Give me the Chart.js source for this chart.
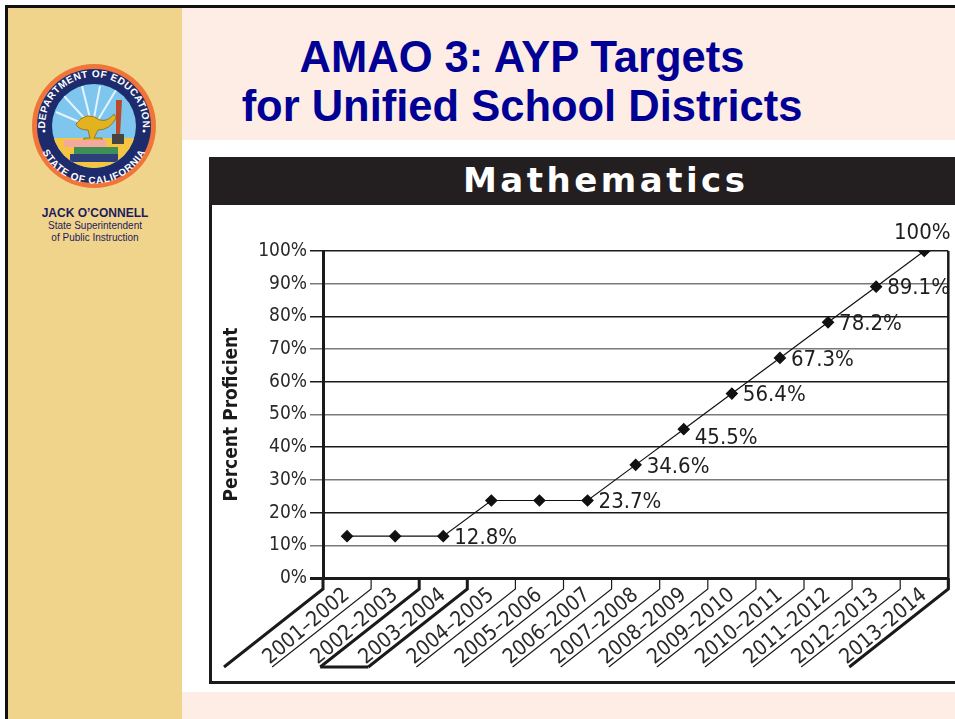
<!DOCTYPE html>
<html>
<head>
<meta charset="utf-8">
<script src="https://cdn.jsdelivr.net/npm/chart.js@4.4.1/dist/chart.umd.min.js"></script>
<style>
  html, body { margin: 0; padding: 0; background: #fff; }
  body { width: 955px; height: 719px; position: relative; overflow: hidden; font-family: 'Liberation Sans', Arial, sans-serif; }
  #frame-top { position: absolute; left: 5px; top: 5px; width: 960px; height: 3px; background: #111; }
  #frame-left { position: absolute; left: 5px; top: 5px; width: 3px; height: 720px; background: #111; }
  #sidebar { position: absolute; left: 8px; top: 8px; width: 174px; height: 711px; background: #f1d48b; }
  #pinkTop { position: absolute; left: 182px; top: 8px; width: 773px; height: 132px; background: #fdede4; }
  #pinkBottom { position: absolute; left: 182px; top: 692px; width: 773px; height: 27px; background: #fdede4; }
  #title { position: absolute; left: 182px; top: 33px; width: 680px; text-align: center; color: #000095;
           font: bold 43.5px 'Liberation Sans', Arial, sans-serif; line-height: 49px; }
  #seal { position: absolute; left: 32px; top: 64px; }
  #who { position: absolute; left: 8px; top: 206px; width: 174px; text-align: center; color: #1b1b5e; }
  #who .name { font: bold 12px 'Liberation Sans', Arial, sans-serif; }
  #who .role { font: 10px 'Liberation Sans', Arial, sans-serif; line-height: 12px; }
  #box { position: absolute; left: 209px; top: 157px; width: 800px; height: 524px; border: 3px solid #1a1a1a; border-top: none; background: #fff; }
  #head { position: absolute; left: 209px; top: 157px; width: 800px; height: 48px; background: #231f20; }
  #head span { position: absolute; left: 254px; top: 3px; color: #fff; font: bold 34px 'DejaVu Sans', sans-serif; letter-spacing: 3.5px; }
  #chartWrap { position: absolute; left: 212px; top: 205px; width: 743px; height: 476px; }
</style>
</head>
<body>
<div id="sidebar"></div>
<div id="pinkTop"></div>
<div id="pinkBottom"></div>
<div id="frame-top"></div>
<div id="frame-left"></div>

<svg id="seal" width="124" height="124" viewBox="-62 -62 124 124">
  <defs>
    <path id="arcTop" d="M -49 0 A 49 49 0 0 1 49 0"/>
    <path id="arcBot" d="M -55 0 A 55 55 0 0 0 55 0"/>
    <clipPath id="inner"><circle r="42"/></clipPath>
  </defs>
  <circle r="62" fill="#f0753a"/>
  <circle r="57" fill="#1d2a6b"/>
  <g clip-path="url(#inner)">
    <rect x="-42" y="-42" width="84" height="84" fill="#7fc6ee"/>
    <rect x="-42" y="12" width="84" height="30" fill="#f5c542"/>
    <g stroke="#fff" stroke-width="2" opacity="0.8">
      <line x1="-8" y1="-6" x2="-30" y2="-30"/><line x1="-4" y1="-8" x2="-12" y2="-40"/>
      <line x1="0" y1="-8" x2="6" y2="-40"/><line x1="4" y1="-6" x2="22" y2="-36"/>
      <line x1="-10" y1="-2" x2="-38" y2="-14"/>
    </g>
    <path d="M -18 -2 q 10 -14 24 -4 q 8 2 14 -6 l 2 4 q -6 12 -18 12 l -4 8 h 8 v 4 h -18 v -4 h 6 l -2 -8 q -10 0 -12 -6 z" fill="#e3b21f" stroke="#8a6a10" stroke-width="0.8"/>
    <rect x="-30" y="14" width="42" height="7" fill="#f4a8a0"/>
    <rect x="-20" y="21" width="44" height="7" fill="#3e8f55"/>
    <rect x="-24" y="28" width="48" height="8" fill="#2c3f7a"/>
    <path d="M 22 -26 l 6 0 l -2 36 l -4 0 z" fill="#b94a2a"/>
    <rect x="18" y="8" width="12" height="10" fill="#444"/>
  </g>
  <text font-family="'Liberation Sans', Arial, sans-serif" font-weight="bold" font-size="10" fill="#fff" letter-spacing="0.5">
    <textPath href="#arcTop" startOffset="50%" text-anchor="middle">DEPARTMENT OF EDUCATION</textPath>
  </text>
  <text font-family="'Liberation Sans', Arial, sans-serif" font-weight="bold" font-size="10" fill="#fff" letter-spacing="0.5">
    <textPath href="#arcBot" startOffset="50%" text-anchor="middle" dominant-baseline="middle">STATE OF CALIFORNIA</textPath>
  </text>
  <circle cx="-50" cy="5" r="1.5" fill="#fff"/><circle cx="50" cy="5" r="1.5" fill="#fff"/>
</svg>

<div id="who">
  <div class="name">JACK O’CONNELL</div>
  <div class="role">State Superintendent<br>of Public Instruction</div>
</div>

<div id="title">AMAO 3: AYP Targets<br>for Unified School Districts</div>

<div id="box"></div>
<div id="head"><span>Mathematics</span></div>
<div id="chartWrap"><canvas id="amaoChart" width="743" height="476"></canvas></div>

<script>
// Năm học và chỉ tiêu AYP môn Toán
const schoolYears = ['2001–2002', '2002–2003', '2003–2004', '2004–2005', '2005–2006', '2006–2007',
    '2007–2008', '2008–2009', '2009–2010', '2010–2011', '2011–2012', '2012–2013', '2013–2014'];
const mathTargets = [12.8, 12.8, 12.8, 23.7, 23.7, 23.7, 34.6, 45.5, 56.4, 67.3, 78.2, 89.1, 100];
const pointLabels = ['', '', '12.8%', '', '', '23.7%', '34.6%', '45.5%', '56.4%', '67.3%', '78.2%', '89.1%', '100%'];
const yMin = 0, yMax = 100, yStep = 10;

const narrow = "'Liberation Sans Narrow', 'DejaVu Sans Condensed', sans-serif";

// Vẽ nhãn giá trị bên cạnh điểm
const valueLabels = {
    id: 'valueLabels',
    afterDatasetsDraw(chart) {
        const ctx = chart.ctx;
        const meta = chart.getDatasetMeta(0);
        ctx.save();
        ctx.font = '22px ' + narrow;
        ctx.fillStyle = '#1e1e1e';
        meta.data.forEach((pt, i) => {
            const txt = pointLabels[i];
            if (!txt) return;
            if (i === meta.data.length - 1) {
                ctx.textAlign = 'center';
                ctx.textBaseline = 'bottom';
                ctx.fillText(txt, pt.x - 2, pt.y - 7);
            } else {
                ctx.textAlign = 'left';
                ctx.textBaseline = 'middle';
                ctx.fillText(txt, pt.x + 11, pt.y + (i === 7 ? 9 : 2));
            }
        });
        ctx.restore();
    }
};

// Vẽ các đường chéo dưới trục x và viền phải
const floorLines = {
    id: 'floorLines',
    afterDraw(chart) {
        const ctx = chart.ctx;
        const area = chart.chartArea;
        const n = schoolYears.length;
        const step = (area.right - area.left) / n;
        const dx = 99, dy = 78, drop = 11;
        const thick = [0, 2, 3, n];
        ctx.save();
        ctx.strokeStyle = '#1a1a1a';
        ctx.lineCap = 'butt';
        // viền phải
        ctx.lineWidth = 2.5;
        ctx.beginPath();
        ctx.moveTo(area.right, area.top);
        ctx.lineTo(area.right, area.bottom + drop);
        ctx.stroke();
        for (let b = 0; b <= n; b++) {
            const x = area.left + b * step;
            ctx.lineWidth = thick.includes(b) ? 3 : 1.2;
            ctx.beginPath();
            ctx.moveTo(x, area.bottom);
            ctx.lineTo(x, area.bottom + drop);
            ctx.lineTo(x - dx, area.bottom + drop + dy);
            ctx.stroke();
        }
        // khung đậm quanh 2003–2004
        ctx.lineWidth = 3;
        ctx.beginPath();
        ctx.moveTo(area.left + 2 * step - dx, area.bottom + drop + dy);
        ctx.lineTo(area.left + 3 * step - dx, area.bottom + drop + dy);
        ctx.stroke();
        ctx.restore();
    }
};

const chart = new Chart(document.getElementById('amaoChart'), {
    type: 'line',
    data: {
        labels: schoolYears,
        datasets: [{
            label: 'Mathematics',
            data: mathTargets,
            borderColor: '#111',
            borderWidth: 1.2,
            backgroundColor: '#111',
            pointStyle: 'rectRot',
            pointRadius: 5.5,
            pointHoverRadius: 5.5,
            tension: 0,
            fill: false
        }]
    },
    options: {
        responsive: false,
        animation: false,
        layout: { padding: { top: 46, right: 3, left: 0, bottom: 0 } },
        plugins: {
            legend: { display: false },
            tooltip: { enabled: false }
        },
        scales: {
            x: {
                offset: true,
                grid: { display: false, drawTicks: false },
                border: { display: false },
                ticks: {
                    minRotation: 40,
                    maxRotation: 40,
                    padding: 5,
                    color: '#2a2a2a',
                    font: { family: narrow, size: 21 }
                },
                afterFit(scale) { scale.height = 103; }
            },
            y: {
                min: yMin,
                max: yMax,
                ticks: {
                    stepSize: yStep,
                    padding: 3,
                    color: '#2a2a2a',
                    font: { family: narrow, size: 19 },
                    callback: v => v + '%'
                },
                grid: {
                    tickLength: 13,
                    color: ctx => (ctx.index % 2 === 0 ? '#1a1a1a' : '#7a7a7a'),
                    lineWidth: ctx => (ctx.index === 0 ? 3 : 1.5)
                },
                border: { display: true, width: 3, color: '#1a1a1a' },
                title: {
                    display: true,
                    text: 'Percent Proficient',
                    color: '#1a1a1a',
                    padding: { top: 9, bottom: 0 },
                    font: { family: narrow, size: 19, weight: 'bold' }
                },
                afterFit(scale) { scale.width = 111; }
            }
        }
    },
    plugins: [valueLabels, floorLines]
});
</script>
</body>
</html>
